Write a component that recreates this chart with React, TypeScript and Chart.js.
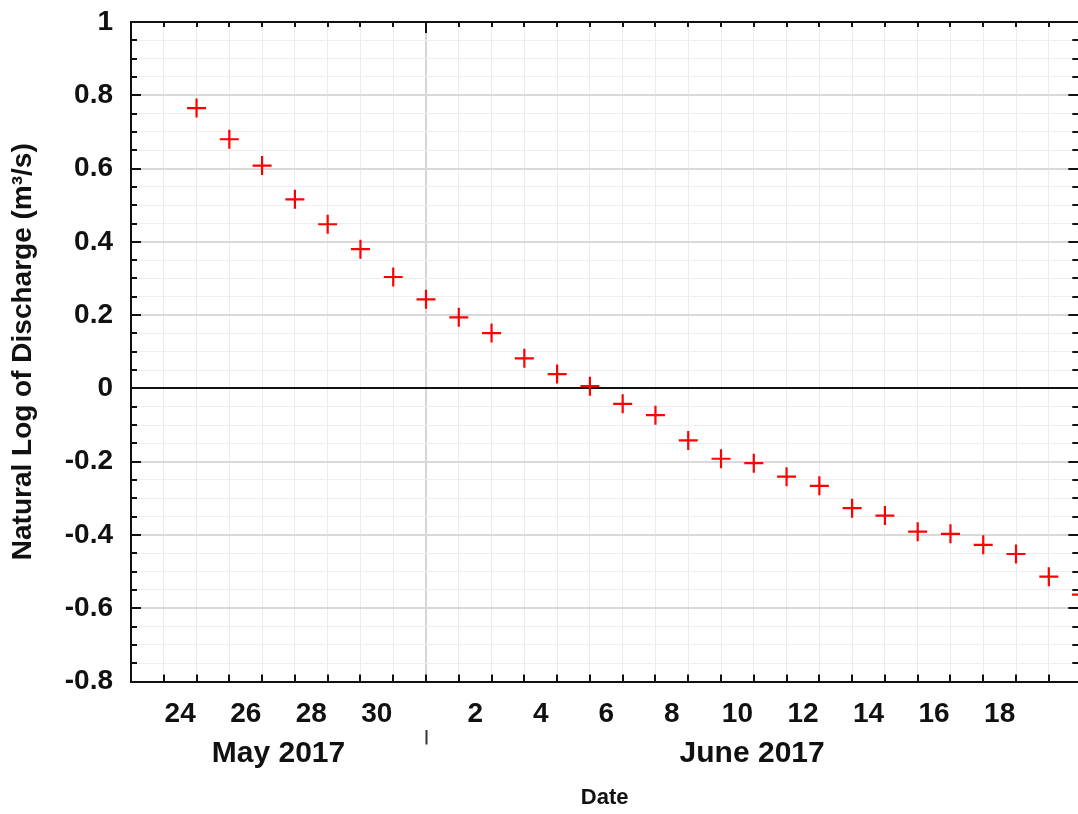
import React, { useEffect, useRef } from "react";
import { Chart, registerables } from "chart.js";

Chart.register(...registerables);

// Daily observations, May 25 – June 21, 2017
const dates: string[] = [
  "2017-05-25", "2017-05-26", "2017-05-27", "2017-05-28", "2017-05-29", "2017-05-30", "2017-05-31",
  "2017-06-01", "2017-06-02", "2017-06-03", "2017-06-04", "2017-06-05", "2017-06-06", "2017-06-07",
  "2017-06-08", "2017-06-09", "2017-06-10", "2017-06-11", "2017-06-12", "2017-06-13", "2017-06-14",
  "2017-06-15", "2017-06-16", "2017-06-17", "2017-06-18", "2017-06-19", "2017-06-20", "2017-06-21",
];

// Natural log of discharge (m³/s)
const lnDischarge: number[] = [
  0.765, 0.68, 0.608, 0.516, 0.448, 0.38, 0.304,
  0.243, 0.194, 0.151, 0.082, 0.039, 0.006, -0.042,
  -0.073, -0.142, -0.192, -0.204, -0.241, -0.266, -0.327,
  -0.347, -0.391, -0.397, -0.427, -0.452, -0.514, -0.563,
];

const monthNames: string[] = ["May 2017", "June 2017"];
const yMajorTicks: number[] = [-0.8, -0.6, -0.4, -0.2, 0, 0.2, 0.4, 0.6, 0.8, 1];

const MAY_DAYS = 31;
const JUNE_START = MAY_DAYS + 1; // day number of June 1, 00:00
const X_MIN = 23;
const X_MAX = 51.9;
const Y_MIN = -0.8;
const Y_MAX = 1;
const Y_MINOR_STEP = 0.05;

const CANVAS_W = 1090;
const CANVAS_H = 814;
const PLOT_LEFT = 131;
const PLOT_RIGHT = 1080;
const PLOT_TOP = 22;
const PLOT_BOTTOM = 681.5;
const PAD_BOTTOM = 2.8;
const DAY_AXIS_H = 48;
const DAY_PX = (PLOT_RIGHT - PLOT_LEFT) / (X_MAX - X_MIN);

const FONT = "'Liberation Sans', Arial, Helvetica, sans-serif";
const TEXT = "#111111";

function dayNumber(iso: string): number {
  const [, m, d] = iso.split("-").map(Number);
  return m === 5 ? d : MAY_DAYS + d;
}

function dayOfMonth(v: number): number {
  return v <= MAY_DAYS ? v : v - MAY_DAYS;
}

function isMajorY(v: number): boolean {
  return yMajorTicks.some((t) => Math.abs(t - v) < 1e-6);
}

// Inward tick marks on all four sides of the plot frame
const frameTicks = {
  id: "frameTicks",
  afterDraw(chart: any) {
    const { ctx, chartArea: a, scales } = chart;
    const xs = scales.x;
    const ys = scales.y;
    ctx.save();
    ctx.strokeStyle = "#111";
    ctx.lineWidth = 2;
    ctx.beginPath();
    ys.ticks.forEach((t: any) => {
      const py = Math.round(ys.getPixelForValue(t.value));
      const len = isMajorY(t.value) ? 10 : 6;
      ctx.moveTo(a.left, py);
      ctx.lineTo(a.left + len, py);
      ctx.moveTo(a.right, py);
      ctx.lineTo(a.right - len, py);
    });
    xs.ticks.forEach((t: any) => {
      const px = Math.round(xs.getPixelForValue(t.value));
      const topLen = t.value === JUNE_START ? 11 : 5;
      ctx.moveTo(px, a.top);
      ctx.lineTo(px, a.top + topLen);
      ctx.moveTo(px, a.bottom);
      ctx.lineTo(px, a.bottom - 7);
    });
    ctx.stroke();
    ctx.restore();
  },
};

export default function App() {
  const canvasRef = useRef<HTMLCanvasElement | null>(null);

  useEffect(() => {
    if (!canvasRef.current) return;
    const points = dates.map((d, i) => ({ x: dayNumber(d), y: lnDischarge[i] }));
    const monthTicks = [
      { value: (X_MIN + JUNE_START) / 2, label: monthNames[0] },
      { value: JUNE_START, label: "" },
      { value: (JUNE_START + X_MAX) / 2, label: monthNames[1] },
    ];

    const chart = new Chart(canvasRef.current, {
      type: "scatter",
      data: {
        datasets: [
          {
            data: points,
            pointStyle: "cross",
            pointRadius: 9.5,
            pointBorderWidth: 2.2,
            borderColor: "#ff0000",
            backgroundColor: "#ff0000",
            showLine: false,
          },
        ],
      },
      options: {
        animation: false,
        responsive: false,
        events: [],
        layout: { padding: { left: 0, top: PLOT_TOP, right: CANVAS_W - PLOT_RIGHT, bottom: PAD_BOTTOM } },
        plugins: { legend: { display: false }, tooltip: { enabled: false } },
        scales: {
          x: {
            type: "linear",
            position: "bottom",
            weight: 0,
            min: X_MIN,
            max: X_MAX,
            afterBuildTicks: (scale: any) => {
              const ticks = [];
              for (let v = X_MIN; v <= X_MAX; v++) ticks.push({ value: v });
              scale.ticks = ticks;
            },
            afterFit: (scale: any) => {
              scale.height = DAY_AXIS_H;
              scale.paddingLeft = 0;
              scale.paddingRight = 0;
            },
            grid: {
              drawTicks: false,
              color: (ctx: any) => (ctx.tick && ctx.tick.value === JUNE_START ? "#d6d6d6" : "#ececec"),
              lineWidth: (ctx: any) => (ctx.tick && ctx.tick.value === JUNE_START ? 2 : 1),
            },
            border: { display: true, color: "#111", width: 2 },
            ticks: {
              autoSkip: false,
              maxRotation: 0,
              padding: 16,
              labelOffset: DAY_PX / 2,
              color: TEXT,
              font: { family: FONT, size: 28, weight: "bold" },
              callback: (v: any) => {
                const d = dayOfMonth(Number(v));
                return d % 2 === 0 && Number(v) + 1 <= X_MAX ? String(d) : "";
              },
            },
          },
          month: {
            type: "linear",
            axis: "x",
            position: "bottom",
            weight: 1,
            min: X_MIN,
            max: X_MAX,
            afterBuildTicks: (scale: any) => {
              scale.ticks = monthTicks.map((t) => ({ value: t.value }));
            },
            afterFit: (scale: any) => {
              scale.height = CANVAS_H - PAD_BOTTOM - PLOT_BOTTOM - DAY_AXIS_H;
              scale.paddingLeft = 0;
              scale.paddingRight = 0;
            },
            grid: {
              drawOnChartArea: false,
              drawTicks: true,
              tickLength: 15,
              tickWidth: 2,
              tickColor: (ctx: any) => (ctx.tick && ctx.tick.value === JUNE_START ? "#333" : "rgba(0,0,0,0)"),
            },
            border: { display: false },
            ticks: {
              autoSkip: false,
              maxRotation: 0,
              padding: -8.5,
              color: TEXT,
              font: { family: FONT, size: 30, weight: "bold" },
              callback: (v: any) => {
                const m = monthTicks.find((t) => Math.abs(t.value - Number(v)) < 1e-6);
                return m ? m.label : "";
              },
            },
            title: {
              display: true,
              text: "Date",
              color: TEXT,
              font: { family: FONT, size: 22, weight: "bold" },
              padding: { top: 0, bottom: 0 },
            },
          },
          y: {
            type: "linear",
            position: "left",
            min: Y_MIN,
            max: Y_MAX,
            afterBuildTicks: (scale: any) => {
              const ticks = [];
              const n = Math.round((Y_MAX - Y_MIN) / Y_MINOR_STEP);
              for (let i = 0; i <= n; i++) ticks.push({ value: Math.round((Y_MIN + i * Y_MINOR_STEP) * 100) / 100 });
              scale.ticks = ticks;
            },
            afterFit: (scale: any) => {
              scale.width = PLOT_LEFT;
              scale.paddingTop = 0;
              scale.paddingBottom = 0;
            },
            grid: {
              drawTicks: false,
              color: (ctx: any) => {
                const v = ctx.tick ? ctx.tick.value : NaN;
                if (Math.abs(v) < 1e-6 || Math.abs(v - Y_MAX) < 1e-6) return "#111";
                return isMajorY(v) ? "#d9d9d9" : "#eeeeee";
              },
              lineWidth: (ctx: any) => {
                const v = ctx.tick ? ctx.tick.value : NaN;
                if (Math.abs(v) < 1e-6 || Math.abs(v - Y_MAX) < 1e-6) return 2;
                return isMajorY(v) ? 2 : 1;
              },
            },
            border: { display: true, color: "#111", width: 2 },
            ticks: {
              autoSkip: false,
              padding: 18,
              color: TEXT,
              font: { family: FONT, size: 28, weight: "bold" },
              callback: (v: any) => (isMajorY(Number(v)) ? String(Math.round(Number(v) * 10) / 10) : ""),
            },
            title: {
              display: true,
              text: "Natural Log of Discharge (m³/s)",
              color: TEXT,
              font: { family: FONT, size: 28, weight: "bold" },
              padding: { top: 6.5, bottom: 0 },
            },
          },
        },
      },
      plugins: [frameTicks],
    } as any);

    return () => chart.destroy();
  }, []);

  return (
    <div
      style={{
        position: "fixed",
        left: 0,
        top: 0,
        width: 1078,
        height: CANVAS_H,
        overflow: "hidden",
        background: "#ffffff",
      }}
    >
      <canvas
        ref={canvasRef}
        width={CANVAS_W}
        height={CANVAS_H}
        style={{ display: "block", width: CANVAS_W, height: CANVAS_H }}
      />
    </div>
  );
}
